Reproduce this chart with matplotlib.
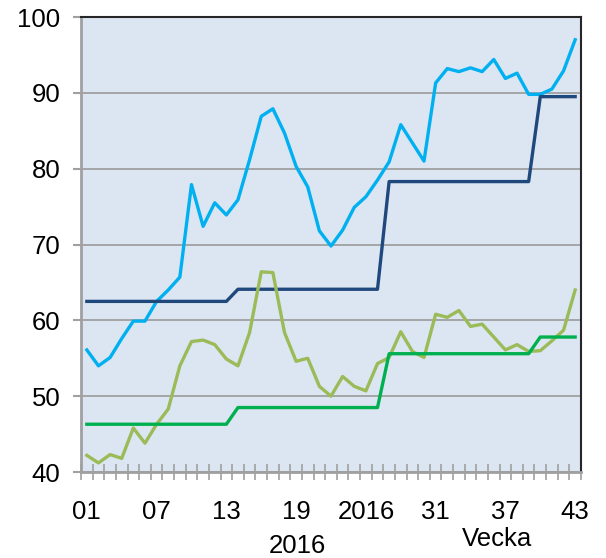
import numpy as np
import matplotlib.pyplot as plt
from matplotlib.ticker import FixedLocator

plt.rcParams["font.family"] = ["Liberation Sans", "DejaVu Sans"]

# veckor 1-43
weeks = list(range(1, 44))

# ljusblå serie
blue_light = [56.1, 54.0, 55.1, 57.6, 59.9, 59.9, 62.5, 64.0, 65.7, 77.9,
              72.4, 75.5, 73.9, 75.9, 81.2, 86.9, 87.9, 84.7, 80.3, 77.6,
              71.8, 69.8, 71.9, 74.9, 76.3, 78.5, 80.9, 85.8, 83.4, 81.0,
              91.3, 93.2, 92.8, 93.3, 92.8, 94.4, 91.9, 92.6, 89.8, 89.8,
              90.5, 92.9, 97.0]

# mörkblå trappa
blue_dark = [62.5] * 13 + [64.1] * 13 + [78.3] * 13 + [89.5] * 4

# ljusgrön serie
green_light = [42.2, 41.2, 42.3, 41.8, 45.8, 43.8, 46.3, 48.3, 54.0, 57.2,
               57.4, 56.8, 54.9, 54.0, 58.4, 66.4, 66.3, 58.4, 54.6, 55.0,
               51.3, 50.0, 52.6, 51.3, 50.7, 54.3, 55.1, 58.5, 55.9, 55.1,
               60.8, 60.4, 61.3, 59.2, 59.5, 57.8, 56.1, 56.8, 55.9, 56.0,
               57.3, 58.7, 64.0]

# grön trappa
green_dark = [46.3] * 13 + [48.5] * 13 + [55.6] * 13 + [57.8] * 4

tick_pos = [1, 7, 13, 19, 25, 31, 37, 43]
tick_labels = ["01", "07", "13", "19", "2016", "31", "37", "43"]

fig = plt.figure(figsize=(6.06, 5.58), dpi=100)
ax = fig.add_axes([0.1337, 0.1541, 0.825, 0.8154])
ax.set_facecolor("#DCE6F2")

ax.plot(weeks, blue_light, color="#00B0F0", lw=2.4, solid_joinstyle="round", zorder=3)
ax.plot(weeks, blue_dark, color="#1F497D", lw=2.4, zorder=3)
ax.plot(weeks, green_light, color="#9BBB59", lw=2.4, solid_joinstyle="round", zorder=3)
ax.plot(weeks, green_dark, color="#00B050", lw=2.4, zorder=3)

ax.set_xlim(0.5, 43.5)
ax.set_ylim(40, 100)
ax.set_yticks(range(40, 101, 10))
ax.grid(axis="y", color="#A0A0A0", lw=1.3, zorder=1)

# streck mellan kategorierna, etiketter på vissa veckor
ax.xaxis.set_major_locator(FixedLocator(np.arange(0.5, 44, 1)))
ax.set_xticklabels([])
ax.xaxis.set_minor_locator(FixedLocator(tick_pos))
ax.set_xticklabels(tick_labels, minor=True)
ax.tick_params(axis="x", which="major", direction="inout", length=11, width=1.2, color="#A0A0A0")
ax.tick_params(axis="x", which="minor", length=0, pad=20, labelsize=18.5)
ax.tick_params(axis="y", direction="out", length=6, width=1.5, color="#A0A0A0", labelsize=18.5, pad=9)

for s in ["left", "bottom"]:
    ax.spines[s].set_color("#A0A0A0")
    ax.spines[s].set_linewidth(2)
for s in ["top", "right"]:
    ax.spines[s].set_color("#262626")
    ax.spines[s].set_linewidth(1.5)

fig.text(297 / 606, 1 - 546 / 558, "2016", fontsize=18.5, ha="center", va="center")
fig.text(497 / 606, 1 - 539 / 558, "Vecka", fontsize=18.5, ha="center", va="center")

fig.savefig("out.png", dpi=100)
